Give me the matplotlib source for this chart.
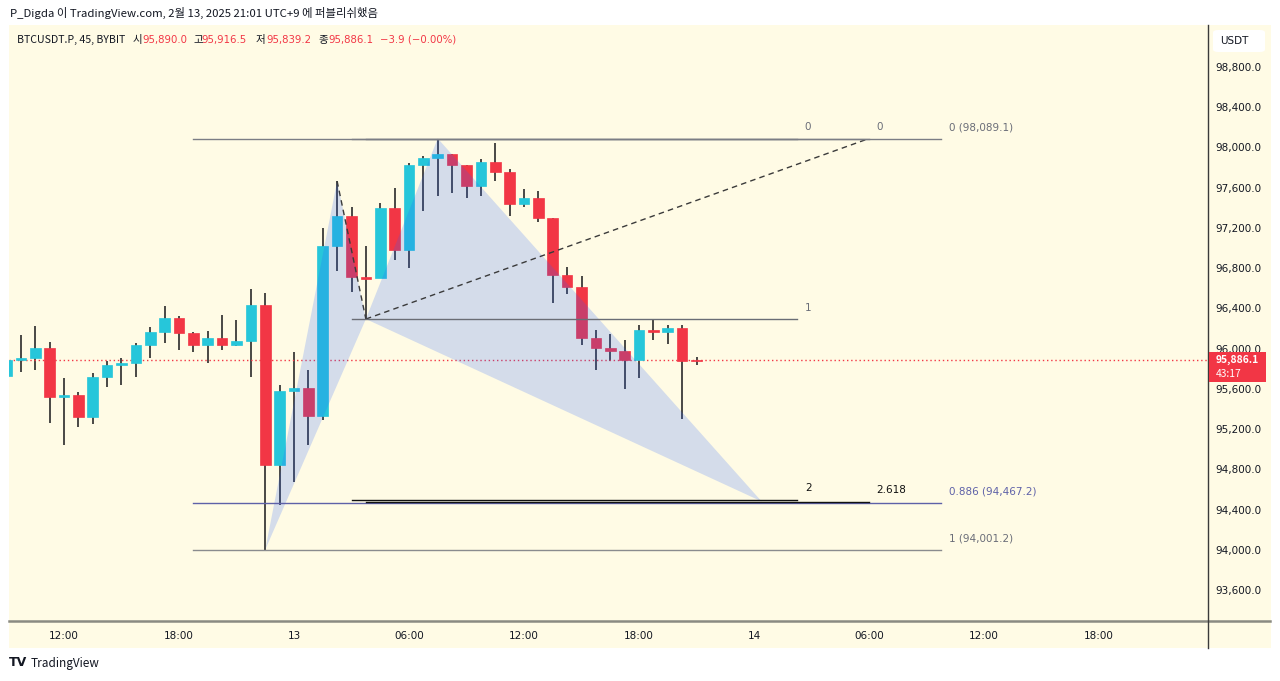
import numpy as np
import pandas as pd
import matplotlib
matplotlib.use("Agg")
import matplotlib.pyplot as plt
from matplotlib.patches import Rectangle, Polygon, FancyBboxPatch
from matplotlib.lines import Line2D

# ---------------- DATA ----------------
times = pd.date_range("2025-02-12 09:00", periods=49, freq="45min")
opens = [95731, 95891, 95905, 96010, 95519, 95542, 95323, 95718, 95841, 95853,
         96040, 96166, 96308, 96156, 96040, 96102, 96036, 96080, 96438, 94846,
         95582, 95609, 95326, 97025, 97316, 96709, 96700, 97400, 96985, 97824,
         97898, 97937, 97821, 97615, 97854, 97754, 97433, 97500, 97294, 96729,
         96614, 96107, 96007, 95973, 95891, 96182, 96162, 96202, 95890.0]
highs = [95895, 96132, 96229, 96063, 95711, 95572, 95758, 95881, 95910, 96057,
         96212, 96428, 96328, 96162, 96176, 96338, 96289, 96597, 96557, 95642,
         95963, 95791, 97201, 97665, 97410, 97018, 97443, 97592, 97848, 97920,
         98089.1, 97937, 97821, 97888, 98040, 97788, 97589, 97565, 97294, 96809,
         96719, 96189, 96149, 96083, 96239, 96296, 96239, 96239, 95916.5]
lows = [95731, 95764, 95791, 95261, 95045, 95217, 95247, 95619, 95642, 95714,
        95907, 96057, 95983, 95963, 95858, 95990, 96030, 95714, 94001.2, 94448,
        94677, 95045, 95294, 96769, 96560, 96294, 96700, 96879, 96803, 97366,
        97522, 97549, 97496, 97522, 97665, 97323, 97410, 97257, 96455, 96540,
        96033, 95784, 95881, 95602, 95708, 96090, 96050, 95300, 95839.2]
closes = [95891, 95905, 96010, 95519, 95542, 95323, 95718, 95841, 95853, 96040,
          96166, 96308, 96156, 96040, 96102, 96036, 96080, 96438, 94846, 95582,
          95609, 95326, 97025, 97316, 96709, 96700, 97400, 96985, 97824, 97898,
          97937, 97821, 97615, 97854, 97754, 97433, 97500, 97294, 96729, 96614,
          96107, 96007, 95973, 95891, 96182, 96162, 96202, 95881, 95886.1]

last_price = 95886.1
countdown = "43:17"

# harmonic pattern points X, A, B, C, D
pattern_times = pd.to_datetime(["2025-02-12 22:30", "2025-02-13 02:15", "2025-02-13 03:45",
                                 "2025-02-13 07:30", "2025-02-14 00:24"])
pattern_prices = [94001.2, 97665, 96294, 98089.1, 94480]

# fib retracement levels (X -> C)
fib_levels = [0, 0.886, 1]
fib_prices = [98089.1, 94467.2, 94001.2]
fib_labels = ["0 (98,089.1)", "0.886 (94,467.2)", "1 (94,001.2)"]
# fib extension 1
ext1_labels = ["0", "1", "2"]
ext1_prices = [98089.1, 96294, 94498.9]
# fib extension 2
ext2_labels = ["0", "2.618"]
ext2_prices = [98089.1, 94478]

price_ticks = [93600, 94000, 94400, 94800, 95200, 95600, 96000, 96400,
               96800, 97200, 97600, 98000, 98400, 98800]
time_ticks = pd.to_datetime(["2025-02-12 12:00", "2025-02-12 18:00", "2025-02-13 00:00",
                             "2025-02-13 06:00", "2025-02-13 12:00", "2025-02-13 18:00",
                             "2025-02-14 00:00", "2025-02-14 06:00", "2025-02-14 12:00",
                             "2025-02-14 18:00"])
time_labels = ["12:00", "18:00", "13", "06:00", "12:00", "18:00", "14", "06:00", "12:00", "18:00"]

# ---------------- helpers ----------------
ref = pd.Timestamp("2025-02-13 00:00")
def hrs(ts):
    return np.asarray((pd.DatetimeIndex(ts) - ref) / pd.Timedelta(hours=1), dtype=float)

t = hrs(times)
W, H = 1280, 681
def fx(px):
    return px / W
def fy(py):
    return 1 - py / H

UP = "#26C6DA"
DN = "#F23645"
CREAM = "#FFFBE5"
TXT = "#131722"
CJK = ["Noto Sans CJK KR", "DejaVu Sans"]
LAT = ["DejaVu Sans", "Noto Sans CJK KR"]

fig = plt.figure(figsize=(12.8, 6.81), dpi=100)
fig.patch.set_facecolor("white")

# chart background
fig.add_artist(Rectangle((fx(9), fy(648)), fx(1262), 623 / H, transform=fig.transFigure,
                         facecolor=CREAM, edgecolor="none", zorder=0))

ax = fig.add_axes([fx(9), fy(621), fx(1199), 596 / H])
ax.set_facecolor("none")
for s in ax.spines.values():
    s.set_visible(False)

px_per_h = 19.167
ax.set_xlim((9 - 294) / px_per_h, (1208 - 294) / px_per_h)
ax.set_ylim(93291.8, 99217.6)

# candles
o = np.array(opens); c = np.array(closes); hi = np.array(highs); lo = np.array(lows)
up = c >= o
cols = np.where(up, UP, DN)
body_h = np.where(np.abs(c - o) < 15, 15 * np.sign(c - o + 1e-9), c - o)
ax.vlines(t, lo, hi, color="#2a2a2a", lw=1.2, zorder=2)
ax.bar(t, body_h, bottom=o, width=0.56, color=cols, edgecolor=cols, lw=0.5, zorder=2.5)

# current price line
ax.axhline(last_price, color=DN, lw=1, ls=(0, (1, 2)), zorder=2)

# pattern triangles
pt = hrs(pattern_times)
pp = pattern_prices
tri1 = Polygon([(pt[0], pp[0]), (pt[1], pp[1]), (pt[2], pp[2])], closed=True,
               facecolor="#2962FF", alpha=0.2, edgecolor="none", zorder=3)
tri2 = Polygon([(pt[2], pp[2]), (pt[3], pp[3]), (pt[4], pp[4])], closed=True,
               facecolor="#2962FF", alpha=0.2, edgecolor="none", zorder=3)
ax.add_patch(tri1); ax.add_patch(tri2)

# dashed lines
ax.plot([pt[1], pt[2]], [pp[1], pp[2]], color="#3a3a3a", lw=1, ls=(0, (4, 3)), zorder=4)
ext2_t = hrs(pd.to_datetime(["2025-02-13 03:45", "2025-02-14 06:00"]))
ax.plot([ext2_t[0], ext2_t[1]], [pp[2], fib_prices[0]], color="#3a3a3a", lw=1,
        ls=(0, (4, 3)), zorder=4)

# fib retracement
fib_t = hrs(pd.to_datetime(["2025-02-12 18:45", "2025-02-14 09:45"]))
fib_cols = ["#7b7d85", "#5e61a8", "#8a8b8e"]
fib_txt_cols = ["#6a6d78", "#5e61a8", "#6a6d78"]
for p, lab, lc, tc in zip(fib_prices, fib_labels, fib_cols, fib_txt_cols):
    ax.plot(fib_t, [p, p], color=lc, lw=1, zorder=4)
    ax.annotate(lab, xy=(fib_t[1], p), xytext=(5.5, 8), textcoords="offset points",
                fontsize=7.5, color=tc, ha="left", va="center", zorder=5)

# fib extension 1
ext1_t = hrs(pd.to_datetime(["2025-02-13 03:00", "2025-02-14 02:15"]))
ext1_cols = ["#7b7d85", "#6a6d75", "#111111"]
ext1_tc = ["#6a6d78", "#6a6d78", "#111111"]
for p, lab, lc, tc in zip(ext1_prices, ext1_labels, ext1_cols, ext1_tc):
    ax.plot(ext1_t, [p, p], color=lc, lw=1, zorder=4)
    ax.annotate(lab, xy=(ext1_t[1], p), xytext=(5.5, 8), textcoords="offset points",
                fontsize=7.5, color=tc, ha="left", va="center", zorder=5)

# fib extension 2
ext2_cols = ["#7b7d85", "#111111"]
ext2_tc = ["#6a6d78", "#111111"]
for p, lab, lc, tc in zip(ext2_prices, ext2_labels, ext2_cols, ext2_tc):
    ax.plot(ext2_t, [p, p], color=lc, lw=1, zorder=4)
    ax.annotate(lab, xy=(ext2_t[1], p), xytext=(5.5, 8.5), textcoords="offset points",
                fontsize=7.5, color=tc, ha="left", va="center", zorder=5)

# axes ticks
ax.yaxis.tick_right()
ax.set_yticks(price_ticks)
ax.set_yticklabels([f"{v:,.1f}" for v in price_ticks])
ax.tick_params(axis="y", length=0, pad=5.5, labelsize=7.5, labelcolor=TXT)
ax.set_xticks(hrs(time_ticks))
ax.set_xticklabels(time_labels)
ax.tick_params(axis="x", length=0, pad=7, labelsize=7.5, labelcolor=TXT)

# separators
fig.add_artist(Line2D([fx(9), fx(1270)], [fy(621), fy(621)], transform=fig.transFigure,
                      color="#8a8a82", lw=1.8, zorder=6))
fig.add_artist(Line2D([fx(1208), fx(1208)], [fy(25), fy(648)], transform=fig.transFigure,
                      color="#3a3a3a", lw=1, zorder=6))

# USDT box
fig.add_artist(FancyBboxPatch((fx(1213), fy(52)), fx(52), 22 / H,
                              boxstyle="round,pad=0,rounding_size=0.004",
                              transform=fig.transFigure, facecolor="white",
                              edgecolor="none", zorder=6))
fig.text(fx(1220), fy(41), "USDT", fontsize=7.5, color=TXT, ha="left", va="center", zorder=7)

# last price box
fig.add_artist(Rectangle((fx(1209), fy(382)), fx(57), 30 / H, transform=fig.transFigure,
                         facecolor=DN, edgecolor="none", zorder=6))
fig.text(fx(1216), fy(360), f"{last_price:,.1f}", fontsize=7.4, color="white",
         ha="left", va="center", zorder=7, fontweight="semibold", family=CJK)
fig.text(fx(1216), fy(374), countdown, fontsize=7.4, color="white",
         ha="left", va="center", zorder=7, family=CJK)

# header
fig.text(fx(10), fy(13), "P_Digda 이 TradingView.com, 2월 13, 2025 21:01 UTC+9 에 퍼블리쉬했음",
         fontsize=8.2, color=TXT, family=CJK, ha="left", va="center")

# legend line
leg_y = fy(40)
LFS = 7.6
fig.text(fx(17), leg_y, "BTCUSDT.P, 45, BYBIT", fontsize=LFS, color=TXT, family=CJK,
         ha="left", va="center")
ohlc_names = ["시", "고", "저", "종"]
ohlc_vals = [opens[-1], highs[-1], lows[-1], closes[-1]]
name_x = [133, 193, 256, 318]
val_x = [142, 201, 266, 328]
for nm, v, nx, vx in zip(ohlc_names, ohlc_vals, name_x, val_x):
    fig.text(fx(nx), leg_y, nm, fontsize=LFS, color=TXT, family=CJK, ha="left", va="center")
    fig.text(fx(vx), leg_y, f"{v:,.1f}", fontsize=7.3, color=DN, family=LAT,
             ha="left", va="center")
fig.text(fx(380), leg_y, "\u22123.9 (\u22120.00%)", fontsize=7.3, color=DN, family=LAT,
         ha="left", va="center")

# footer logo
fig.text(fx(9), fy(663), "TV", fontsize=9, color="#131722", fontweight="heavy",
         ha="left", va="center")
fig.text(fx(31), fy(663), "TradingView", fontsize=8.5, color="#131722", ha="left",
         va="center", family=CJK)

fig.savefig("out.png", dpi=100, facecolor="white")
